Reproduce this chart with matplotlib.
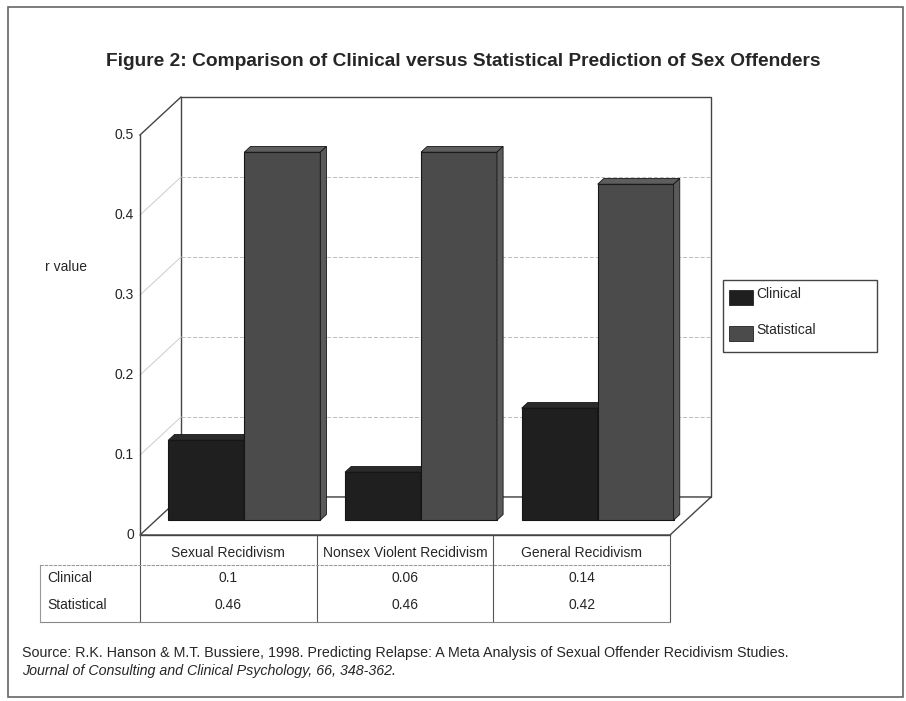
import matplotlib
matplotlib.use("Agg")
import matplotlib.pyplot as plt
import matplotlib.transforms as mtransforms
from matplotlib.patches import Polygon, Rectangle
from matplotlib.lines import Line2D

plt.rcParams["font.family"] = ["Liberation Sans", "DejaVu Sans"]

# data
categories = ["Sexual Recidivism", "Nonsex Violent Recidivism", "General Recidivism"]
series_names = ["Clinical", "Statistical"]
clinical = [0.1, 0.06, 0.14]
statistical = [0.46, 0.46, 0.42]
y_ticks = [0, 0.1, 0.2, 0.3, 0.4, 0.5]

title = "Figure 2: Comparison of Clinical versus Statistical Prediction of Sex Offenders"
source1 = ("Source: R.K. Hanson & M.T. Bussiere, 1998. Predicting Relapse: "
           "A Meta Analysis of Sexual Offender Recidivism Studies.")
source2 = "Journal of Consulting and Clinical Psychology, 66, 348-362."

W, H = 906, 701
TXT = "#262626"
fig = plt.figure(figsize=(W / 100, H / 100), dpi=100)
fig.patch.set_facecolor("white")


def fy(y_img):
    return 1 - y_img / H


def fx(x_img):
    return x_img / W


# front plane of the chart: x 140..670 px, y 535..135 px
ax = fig.add_axes([fx(140), fy(535), fx(670) - fx(140), fy(135) - fy(535)])
ax.set_xlim(0, len(categories))
ax.set_ylim(0, 0.5)
ax.axis("off")

# oblique depth in data units (full depth = back wall)
DEPTH_X = 41 / (530 / 3)
DEPTH_Y = 38 / 800


def P(x, y, z):
    return (x + z * DEPTH_X, y + z * DEPTH_Y)


def poly(pts, fc, ec, lw=0.8, z=2):
    ax.add_patch(Polygon(pts, closed=True, facecolor=fc, edgecolor=ec,
                         linewidth=lw, clip_on=False, zorder=z))


def line(p0, p1, color, lw=0.8, ls="-", z=2):
    ax.add_line(Line2D([p0[0], p1[0]], [p0[1], p1[1]], color=color, lw=lw,
                       ls=ls, clip_on=False, zorder=z))


ncat = len(categories)
top = y_ticks[-1]

# walls and floor
poly([P(0, 0, 1), P(ncat, 0, 1), P(ncat, top, 1), P(0, top, 1)], "white", "#444444", 1.0, 1)
poly([P(0, 0, 0), P(ncat, 0, 0), P(ncat, 0, 1), P(0, 0, 1)], "white", "#444444", 1.0, 1)
for v in y_ticks[1:-1]:
    line(P(0, v, 1), P(ncat, v, 1), "#bbbbbb", 0.7, (0, (4, 2)), 1.5)
    line(P(0, v, 0), P(0, v, 1), "#cccccc", 0.7, "-", 1.5)
line(P(0, top, 0), P(0, top, 1), "#444444", 1.0, "-", 1.5)
line(P(0, 0, 0), P(0, top, 0), "#444444", 1.0, "-", 5)
line(P(0, 0, 0), P(ncat, 0, 0), "#444444", 1.0, "-", 5)

# bars
bar_w = 0.43
z0, z1 = 0.39, 0.54
colors = {"Clinical": ("#1f1f1f", "#2a2a2a", "#181818"),
          "Statistical": ("#4b4b4b", "#5e5e5e", "#5a5a5a")}
for i in range(ncat):
    center = i + 0.5
    for j, (name, vals) in enumerate(zip(series_names, [clinical, statistical])):
        x0 = center - bar_w + j * bar_w
        x1 = x0 + bar_w
        v = vals[i]
        front, topc, side = colors[name]
        poly([P(x0, 0, z0), P(x1, 0, z0), P(x1, v, z0), P(x0, v, z0)], front, "#151515", 0.8, 3)
        poly([P(x0, v, z0), P(x1, v, z0), P(x1, v, z1), P(x0, v, z1)], topc, "#151515", 0.6, 3)
        poly([P(x1, 0, z0), P(x1, 0, z1), P(x1, v, z1), P(x1, v, z0)], side, "#151515", 0.6, 3)

# y tick labels
for v in y_ticks:
    ax.text(-0.035, v, f"{v:g}", ha="right", va="center", fontsize=10, color=TXT)
fig.text(fx(45), fy(267), "r value", ha="left", va="center", fontsize=10, color=TXT)

# data table
bt = mtransforms.blended_transform_factory(ax.transData, fig.transFigure)
for k in range(ncat + 1):
    fig.add_artist(Line2D([k, k], [fy(535), fy(622)], transform=bt, color="#555555", lw=0.8))
fig.add_artist(Line2D([fx(40), fx(670)], [fy(565), fy(565)], color="#999999", lw=0.8, ls=(0, (3, 1))))
fig.add_artist(Line2D([fx(40), fx(670)], [fy(622), fy(622)], color="#888888", lw=0.8))
fig.add_artist(Line2D([fx(40), fx(40)], [fy(565), fy(622)], color="#999999", lw=0.8))
for i, cat in enumerate(categories):
    fig.text(i + 0.5, fy(553), cat, transform=bt, ha="center", va="center", fontsize=10, color=TXT)
    fig.text(i + 0.5, fy(578), f"{clinical[i]:g}", transform=bt, ha="center", va="center",
             fontsize=10, color=TXT)
    fig.text(i + 0.5, fy(605), f"{statistical[i]:g}", transform=bt, ha="center", va="center",
             fontsize=10, color=TXT)
fig.text(fx(47), fy(578), series_names[0], ha="left", va="center", fontsize=10, color=TXT)
fig.text(fx(47), fy(605), series_names[1], ha="left", va="center", fontsize=10, color=TXT)

# legend
fig.add_artist(Rectangle((fx(723), fy(352)), fx(877) - fx(723), fy(280) - fy(352),
                         facecolor="white", edgecolor="#444444", lw=1.0, transform=fig.transFigure))
for k, name in enumerate(series_names):
    yc = 298 + k * 36
    fig.add_artist(Rectangle((fx(729), fy(yc + 7)), fx(24), fy(0) - fy(15),
                             facecolor=colors[name][0], edgecolor="#222222", lw=0.6,
                             transform=fig.transFigure))
    fig.text(fx(756), fy(yc - 4), name, ha="left", va="center", fontsize=10, color=TXT)

# title and source
fig.text(fx(463), fy(62), title, ha="center", va="center", fontsize=13.8,
         fontweight="bold", color=TXT)
fig.text(fx(22), fy(653), source1, ha="left", va="center", fontsize=10.3, color=TXT)
fig.text(fx(22), fy(671), source2, ha="left", va="center", fontsize=10.3, color=TXT,
         style="italic")

# outer frame
fig.add_artist(Rectangle((fx(8), fy(697)), fx(895), fy(7) - fy(697), facecolor="none",
                         edgecolor="#666666", lw=1.2, transform=fig.transFigure))

fig.savefig("out.png", dpi=100)
